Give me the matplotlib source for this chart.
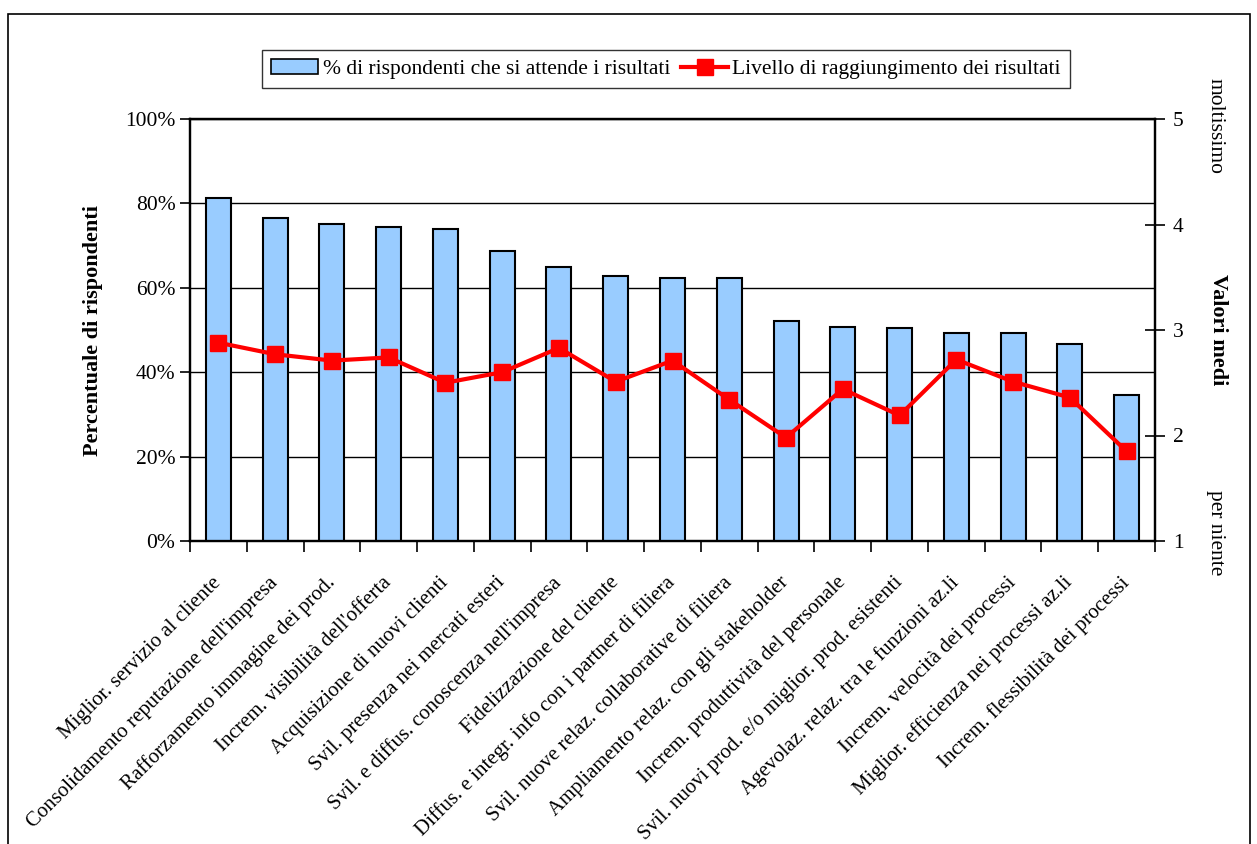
import matplotlib
matplotlib.use("Agg")
from matplotlib import pyplot as plt
from matplotlib.patches import Rectangle
from matplotlib.lines import Line2D
import numpy as np

plt.rcParams['font.family'] = ['Liberation Serif', 'DejaVu Serif']

categories = [
    "Miglior. servizio al cliente",
    "Consolidamento reputazione dell'impresa",
    "Rafforzamento immagine dei prod.",
    "Increm. visibilità dell'offerta",
    "Acquisizione di nuovi clienti",
    "Svil. presenza nei mercati esteri",
    "Svil. e diffus. conoscenza nell'impresa",
    "Fidelizzazione del cliente",
    "Diffus. e integr. info con i partner di filiera",
    "Svil. nuove relaz. collaborative di filiera",
    "Ampliamento relaz. con gli stakeholder",
    "Increm. produttività del personale",
    "Svil. nuovi prod. e/o miglior. prod. esistenti",
    "Agevolaz. relaz. tra le funzioni az.li",
    "Increm. velocità dei processi",
    "Miglior. efficienza nei processi az.li",
    "Increm. flessibilità dei processi",
]
pct_attesi = [81.2, 76.5, 75.1, 74.4, 73.9, 68.8, 65.0, 62.9, 62.4, 62.4,
              52.1, 50.8, 50.5, 49.2, 49.2, 46.6, 34.6]
livello = [2.88, 2.77, 2.71, 2.74, 2.50, 2.60, 2.83, 2.51, 2.71, 2.34,
           1.98, 2.44, 2.19, 2.72, 2.51, 2.36, 1.85]

bar_label = "% di rispondenti che si attende i risultati"
line_label = "Livello di raggiungimento dei risultati"

W, H = 1257, 844
fig = plt.figure(figsize=(W / 100, H / 100), dpi=100)

# outer frame of the chart
fig.add_artist(Rectangle((8 / W, -0.05), 1242 / W, 1 - 14 / H + 0.05,
                         transform=fig.transFigure, fill=False,
                         edgecolor='black', linewidth=1.2))

ax = fig.add_axes([190 / W, 1 - 541 / H, 965 / W, 422 / H])
x = np.arange(len(categories))

ax.bar(x, pct_attesi, width=0.44, color='#99CCFF', edgecolor='black',
       linewidth=1.5, zorder=3)
ax.set_xlim(-0.5, len(categories) - 0.5)
ax.set_ylim(0, 100)
ax.set_yticks(np.arange(0, 101, 20))
ax.set_yticklabels([f"{v}%" for v in range(0, 101, 20)], fontsize=15.5)
ax.grid(axis='y', color='black', linewidth=1.0, zorder=0)
ax.tick_params(axis='y', direction='out', length=7, width=1.2)
for s in ax.spines.values():
    s.set_linewidth(1.6)

# category separators on the x axis, labels at the bar centres
ax.set_xticks(np.arange(len(categories) + 1) - 0.5)
ax.set_xticklabels([])
ax.tick_params(axis='x', direction='out', length=8, width=1.2)
ax.set_xticks(x, minor=True)
ax.set_xticklabels(categories, minor=True, rotation=45, ha='right',
                   va='center', rotation_mode='anchor', fontsize=15)
ax.tick_params(axis='x', which='minor', length=0, pad=28)

ax.set_ylabel("Percentuale di rispondenti", fontsize=16,
              fontweight='bold', labelpad=16)

ax2 = ax.twinx()
ax2.plot(x, livello, color='#FF0000', linewidth=3, marker='s',
         markersize=12, zorder=5)
ax2.set_ylim(1, 5)
ax2.set_yticks([1, 2, 3, 4, 5])
ax2.set_yticklabels(["1", "2", "3", "4", "5"], fontsize=15.5)
ax2.tick_params(axis='y', direction='inout', length=14, width=1.2, pad=6)
for s in ax2.spines.values():
    s.set_linewidth(1.6)

fig.text(1218 / W, 1 - 330 / H, "Valori medi", rotation=270, ha='center',
         va='center', fontsize=16, fontweight='bold')
fig.text(1215 / W, 1 - 126 / H, "moltissimo", rotation=270, ha='center',
         va='center', fontsize=15.5)
fig.text(1215 / W, 1 - 533 / H, "per niente", rotation=270, ha='center',
         va='center', fontsize=15.5)

handles = [
    Rectangle((0, 0), 1, 1, facecolor='#99CCFF', edgecolor='black',
              linewidth=1.2),
    Line2D([], [], color='#FF0000', linewidth=3, marker='s', markersize=11),
]
leg = fig.legend(handles, [bar_label, line_label], loc='center',
                 bbox_to_anchor=(666 / W, 1 - 69 / H), ncol=2, fontsize=15.5,
                 frameon=True, fancybox=False, shadow=False,
                 handlelength=2.2, handletextpad=0.2, columnspacing=0.5,
                 borderpad=0.4)
leg.get_frame().set_edgecolor('black')
leg.get_frame().set_linewidth(1.0)

fig.savefig("out.png", dpi=100)
